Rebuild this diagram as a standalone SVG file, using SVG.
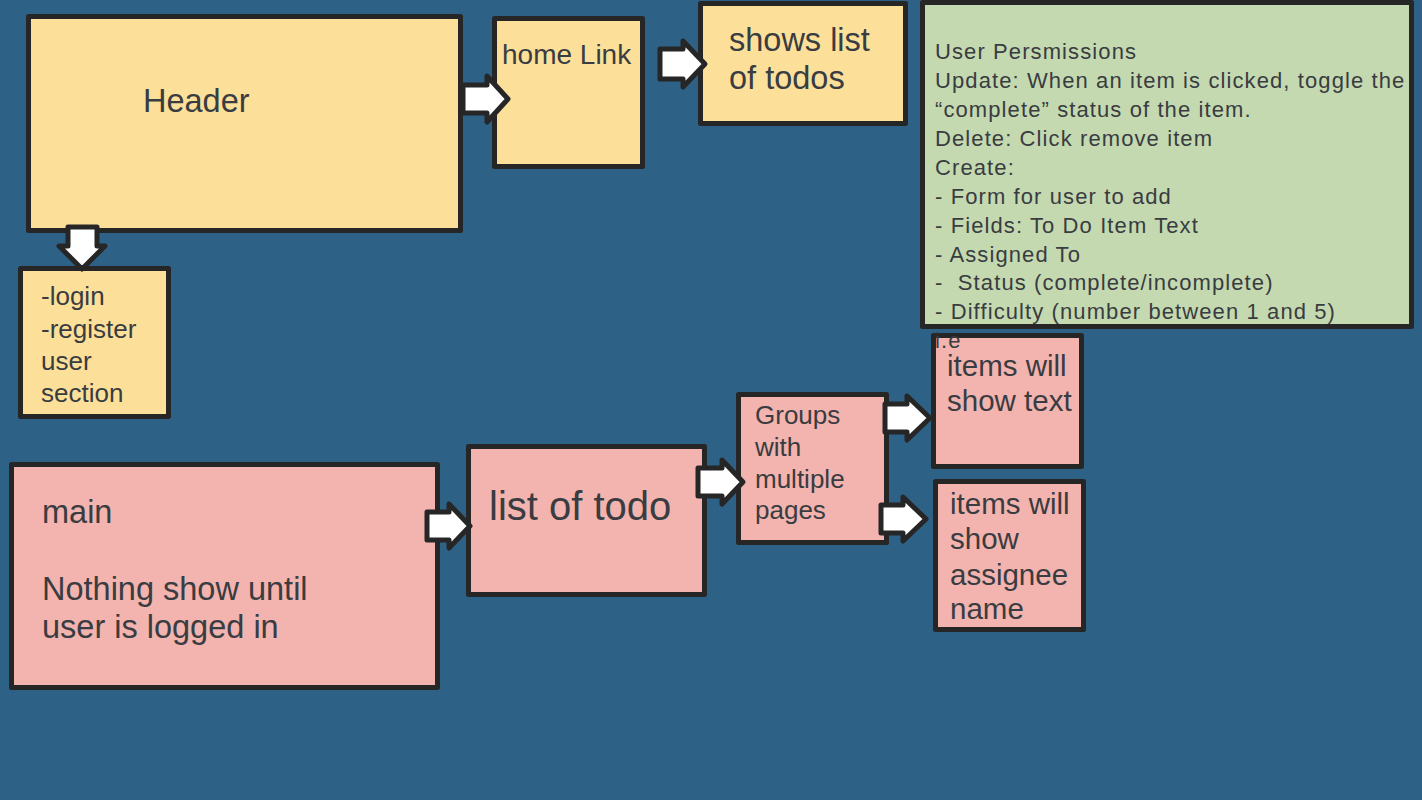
<svg xmlns="http://www.w3.org/2000/svg" width="1422" height="800" viewBox="0 0 1422 800" font-family="'Liberation Sans', Arial, sans-serif">
<style>
.box{stroke:#262626;stroke-width:5;stroke-linejoin:round}
.y{fill:#fce09a}
.p{fill:#f3b3ae}
.g{fill:#c4d9b0}
.arr{fill:#ffffff;stroke:#262626;stroke-width:5;stroke-linejoin:round}
text{font-family:'Liberation Sans', Arial, sans-serif;fill:#393c41}
.t22{font-size:22px;letter-spacing:1.1px}
.t26{font-size:26px}
.t28{font-size:28px}
.t29{font-size:29.5px}
.t32{font-size:32.5px}
.t40{font-size:40px}
</style>
<rect x="0" y="0" width="1422" height="800" fill="#2e6186"/>
<g id="header"><rect class="box y" x="28.5" y="16.5" width="432" height="214"/><text class="t32" x="143" y="112">Header</text></g>
<g id="homelink"><rect class="box y" x="494.5" y="18.5" width="148" height="148"/><text class="t28" x="502" y="64">home Link</text></g>
<g id="showslist"><rect class="box y" x="700.5" y="3.5" width="205" height="120"/><text class="t32" x="729" y="51">shows list</text><text class="t32" x="729" y="89">of todos</text></g>
<g id="login"><rect class="box y" x="20.5" y="268.5" width="148" height="148"/><text class="t26"><tspan x="41" y="305">-login</tspan><tspan x="41" y="338">-register</tspan><tspan x="41" y="370">user</tspan><tspan x="41" y="402">section</tspan></text></g>
<g id="main"><rect class="box p" x="11.5" y="464.5" width="426" height="223"/><text class="t32" x="42" y="523">main</text><text class="t32" x="42" y="600">Nothing show until</text><text class="t32" x="42" y="638">user is logged in</text></g>
<g id="listoftodo"><rect class="box p" x="468.5" y="446.5" width="236" height="148"/><text class="t40" x="489" y="520">list of todo</text></g>
<g id="groups"><rect class="box p" x="738.5" y="394.5" width="148" height="148"/><text class="t26"><tspan x="755" y="424">Groups</tspan><tspan x="755" y="456">with</tspan><tspan x="755" y="488">multiple</tspan><tspan x="755" y="519">pages</tspan></text></g>
<g id="itemstext"><rect class="box p" x="933.5" y="335.5" width="148" height="131"/><text class="t29" x="947" y="376">items will</text><text class="t29" x="947" y="411">show text</text></g>
<g id="itemsassignee"><rect class="box p" x="935.5" y="481.5" width="148" height="148"/><text class="t29"><tspan x="950" y="514">items will</tspan><tspan x="950" y="549">show</tspan><tspan x="950" y="585">assignee</tspan><tspan x="950" y="619">name</tspan></text></g>
<g id="permissions"><rect class="box g" x="922.5" y="2.5" width="489" height="324"/><text class="t22"><tspan x="935" y="59">User Persmissions</tspan><tspan x="935" y="88">Update: When an item is clicked, toggle the</tspan><tspan x="935" y="117">“complete” status of the item.</tspan><tspan x="935" y="146">Delete: Click remove item</tspan><tspan x="935" y="175">Create:</tspan><tspan x="935" y="204">- Form for user to add</tspan><tspan x="935" y="233">- Fields: To Do Item Text</tspan><tspan x="935" y="262">- Assigned To</tspan><tspan x="935" y="290" xml:space="preserve">-  Status (complete/incomplete)</tspan><tspan x="935" y="319">- Difficulty (number between 1 and 5)</tspan><tspan x="935" y="348">i.e</tspan></text></g>
<g id="connectors">
<path class="arr" d="M463,85 L487,85 L487,76 L508,99 L487,122 L487,113 L463,113 Z"/>
<path class="arr" d="M660,49 L683,49 L683,41 L705,64 L683,87 L683,79 L660,79 Z"/>
<path class="arr" d="M68,227 L97,227 L97,246 L105,246 L82,269 L59,246 L68,246 Z"/>
<path class="arr" d="M427,512 L449,512 L449,504 L470,526 L449,548 L449,540 L427,540 Z"/>
<path class="arr" d="M698,468 L722,468 L722,460 L743,482 L722,504 L722,496 L698,496 Z"/>
<path class="arr" d="M885,404 L907,404 L907,396 L930,418 L907,440 L907,432 L885,432 Z"/>
<path class="arr" d="M881,505 L903,505 L903,497 L926,519 L903,541 L903,533 L881,533 Z"/>
</g>
</svg>
